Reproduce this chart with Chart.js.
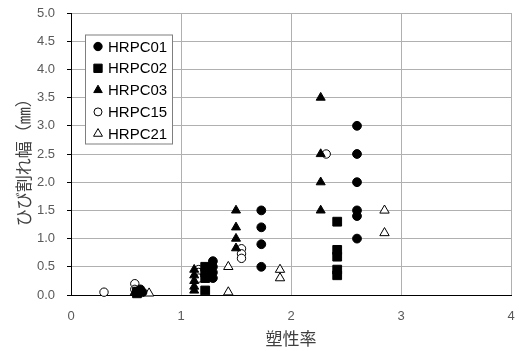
<!DOCTYPE html>
<html>
<head>
<meta charset="utf-8">
<script src="https://cdn.jsdelivr.net/npm/chart.js@4/dist/chart.umd.min.js"></script>
<style>
    html, body { margin: 0; padding: 0; background: #fff; }
    #wrap { width: 520px; height: 351px; }
</style>
</head>
<body>
<div id="wrap"><canvas id="graph" width="520" height="351"></canvas></div>
<script>
// values (x = 塑性率, y = ひび割れ幅)
const hrpc01_x = [0.63, 0.65, 1.29, 1.29, 1.29, 1.29, 1.73, 1.73, 1.73, 1.73, 2.6, 2.6, 2.6, 2.6, 2.6, 2.6];
const hrpc01_y = [0.1, 0.05, 0.6, 0.5, 0.4, 0.3, 1.5, 1.2, 0.9, 0.5, 3.0, 2.5, 2.0, 1.5, 1.4, 1.0];

const hrpc02_x = [0.6, 0.6, 1.22, 1.22, 1.22, 1.22, 2.42, 2.42, 2.42, 2.42, 2.42];
const hrpc02_y = [0.06, 0.03, 0.5, 0.4, 0.3, 0.08, 1.3, 0.8, 0.68, 0.45, 0.35];

const hrpc03_x = [0.58, 1.12, 1.12, 1.12, 1.12, 1.12, 1.5, 1.5, 1.5, 1.5, 2.27, 2.27, 2.27, 2.27];
const hrpc03_y = [0.05, 0.45, 0.35, 0.25, 0.15, 0.08, 1.5, 1.2, 1.0, 0.83, 3.5, 2.5, 2.0, 1.5];

const hrpc15_x = [0.3, 0.58, 0.58, 1.16, 1.16, 1.16, 1.55, 1.55, 1.55, 2.32];
const hrpc15_y = [0.05, 0.2, 0.1, 0.45, 0.4, 0.3, 0.82, 0.73, 0.65, 2.5];

const hrpc21_x = [0.71, 1.43, 1.43, 1.9, 1.9, 2.85, 2.85];
const hrpc21_y = [0.03, 0.05, 0.5, 0.45, 0.3, 1.5, 1.1];

const seriesNames = ['HRPC01', 'HRPC02', 'HRPC03', 'HRPC15', 'HRPC21'];
const xTicks = [0, 1, 2, 3, 4];
const yTicks = [0, 0.5, 1, 1.5, 2, 2.5, 3, 3.5, 4, 4.5, 5];

function toPoints(xs, ys) {
    let pts = [];
    for (let i = 0; i < xs.length; i++) {
        pts.push({x: xs[i], y: ys[i]});
    }
    return pts;
}

// marker look for each series
const markers = [
    {style: 'circle', radius: 4.4, fill: '#000'},
    {style: 'rect', radius: 6.2, fill: '#000'},
    {style: 'triangle', radius: 5.2, fill: '#000'},
    {style: 'circle', radius: 4.2, fill: '#fff'},
    {style: 'triangle', radius: 5.4, fill: '#fff'}
];

const allData = [
    toPoints(hrpc01_x, hrpc01_y),
    toPoints(hrpc02_x, hrpc02_y),
    toPoints(hrpc03_x, hrpc03_y),
    toPoints(hrpc15_x, hrpc15_y),
    toPoints(hrpc21_x, hrpc21_y)
];

const datasets = seriesNames.map(function(name, i) {
    return {
        label: name,
        data: allData[i],
        pointStyle: markers[i].style,
        pointRadius: markers[i].radius,
        pointHoverRadius: markers[i].radius,
        backgroundColor: markers[i].fill,
        borderColor: '#000',
        borderWidth: 1,
        clip: false
    };
});

// legend box drawn inside the plot area
const insideLegend = {
    id: 'insideLegend',
    afterDraw(chart) {
        const ctx = chart.ctx;
        const area = chart.chartArea;
        const bx = area.left + 14, by = area.top + 21.5, bw = 87, bh = 109;
        ctx.save();
        ctx.fillStyle = '#fff';
        ctx.fillRect(bx, by, bw, bh);
        ctx.strokeStyle = '#7f7f7f';
        ctx.lineWidth = 1;
        ctx.strokeRect(bx + 0.5, by + 0.5, bw, bh);
        ctx.font = '15px "Liberation Sans", Arial, sans-serif';
        ctx.textBaseline = 'middle';
        ctx.textAlign = 'left';
        for (let i = 0; i < seriesNames.length; i++) {
            const cy = by + 12 + i * 21.8;
            ctx.fillStyle = markers[i].fill;
            ctx.strokeStyle = '#000';
            Chart.helpers.drawPoint(ctx, {
                pointStyle: markers[i].style,
                radius: markers[i].radius * 0.95,
                rotation: 0,
                borderWidth: 1
            }, bx + 13, cy);
            ctx.fillStyle = '#000';
            ctx.fillText(seriesNames[i], bx + 23, cy + 1);
        }
        ctx.restore();
    }
};

const tickFont = {family: '"Liberation Sans", Arial, sans-serif', size: 13};
const titleFont = {family: '"Noto Sans CJK JP", sans-serif', size: 17};

new Chart(document.getElementById('graph'), {
    type: 'scatter',
    data: {datasets: datasets},
    options: {
        responsive: false,
        animation: false,
        layout: {padding: {left: 0, top: 13, right: 9, bottom: 0}},
        plugins: {
            legend: {display: false},
            tooltip: {enabled: false}
        },
        scales: {
            x: {
                type: 'linear',
                min: 0,
                max: 4,
                afterBuildTicks: function(scale) {
                    scale.ticks = xTicks.map(function(v) { return {value: v}; });
                },
                afterFit: function(scale) {
                    scale.height = 56;
                    scale.paddingLeft = 0;
                    scale.paddingRight = 0;
                },
                ticks: {
                    font: tickFont,
                    color: '#595959',
                    padding: 14,
                    callback: function(v) { return String(v); }
                },
                grid: {color: '#b0b0b0', drawTicks: false},
                border: {color: '#000', width: 1},
                title: {
                    display: true,
                    text: '塑性率',
                    font: titleFont,
                    color: '#404040',
                    padding: {top: 0, bottom: 2}
                }
            },
            y: {
                type: 'linear',
                min: 0,
                max: 5,
                afterBuildTicks: function(scale) {
                    scale.ticks = yTicks.map(function(v) { return {value: v}; });
                },
                afterFit: function(scale) {
                    scale.width = 71;
                    scale.paddingTop = 0;
                    scale.paddingBottom = 0;
                },
                ticks: {
                    font: tickFont,
                    color: '#595959',
                    padding: 12,
                    callback: function(v) { return v.toFixed(1); }
                },
                grid: {color: '#b0b0b0', tickColor: '#000', tickLength: 4},
                border: {color: '#000', width: 1},
                title: {
                    display: true,
                    // trailing full-width space nudges the title a bit lower, like the original
                    text: 'ひび割れ幅（㎜）　',
                    font: titleFont,
                    color: '#404040',
                    padding: {top: 13, bottom: 0}
                }
            }
        }
    },
    plugins: [insideLegend]
});
</script>
</body>
</html>
